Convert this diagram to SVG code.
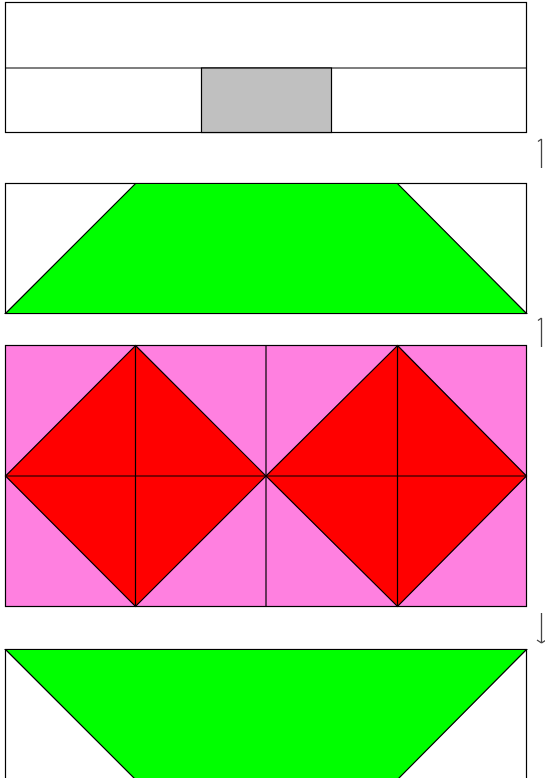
<svg xmlns="http://www.w3.org/2000/svg" width="545" height="778" viewBox="0 0 545 778">
<style>
.o{stroke:#000;stroke-width:1.2}
.a{stroke:#444;stroke-width:1.3;fill:none}
</style>
<rect width="545" height="778" fill="#fff"/>
<g id="panel1">
<rect x="5.5" y="2.5" width="521" height="130" fill="#fff" class="o"/>
<line x1="5.5" y1="68" x2="526.5" y2="68" class="o"/>
<rect x="201.5" y="68" width="130" height="64.5" fill="#c0c0c0" class="o"/>
</g>
<g id="panel2">
<rect x="5.5" y="183.5" width="521" height="130" fill="#fff" class="o"/>
<polygon points="135.5,183.5 397.5,183.5 526.5,313.5 5.5,313.5" fill="#00ff00" class="o"/>
</g>
<g id="panel3">
<rect x="5.5" y="345.5" width="521" height="261" fill="#ff80e0" class="o"/>
<polygon points="135.5,345.5 266,476 135.5,606.5 5.5,476" fill="#ff0000" class="o"/>
<polygon points="397.5,345.5 526.5,476 397.5,606.5 266,476" fill="#ff0000" class="o"/>
<line x1="266" y1="345.5" x2="266" y2="606.5" class="o"/>
<line x1="135.5" y1="345.5" x2="135.5" y2="606.5" class="o"/>
<line x1="397.5" y1="345.5" x2="397.5" y2="606.5" class="o"/>
<line x1="5.5" y1="476" x2="526.5" y2="476" class="o"/>
</g>
<g id="panel4">
<rect x="5.5" y="649.5" width="521" height="130" fill="#fff" class="o"/>
<polygon points="5.5,649.5 526.5,649.5 397.5,779.5 135.5,779.5" fill="#00ff00" class="o"/>
</g>
<g id="connectors">
<path d="M541.5,168 V139 M541.5,139 L538,141.5" class="a"/>
<path d="M541.5,347 V318 M541.5,318 L538,320.5" class="a"/>
<path d="M541.5,613 V643 M541.5,643 L537,640 M541.5,643 L546,640" class="a"/>
</g>
</svg>
